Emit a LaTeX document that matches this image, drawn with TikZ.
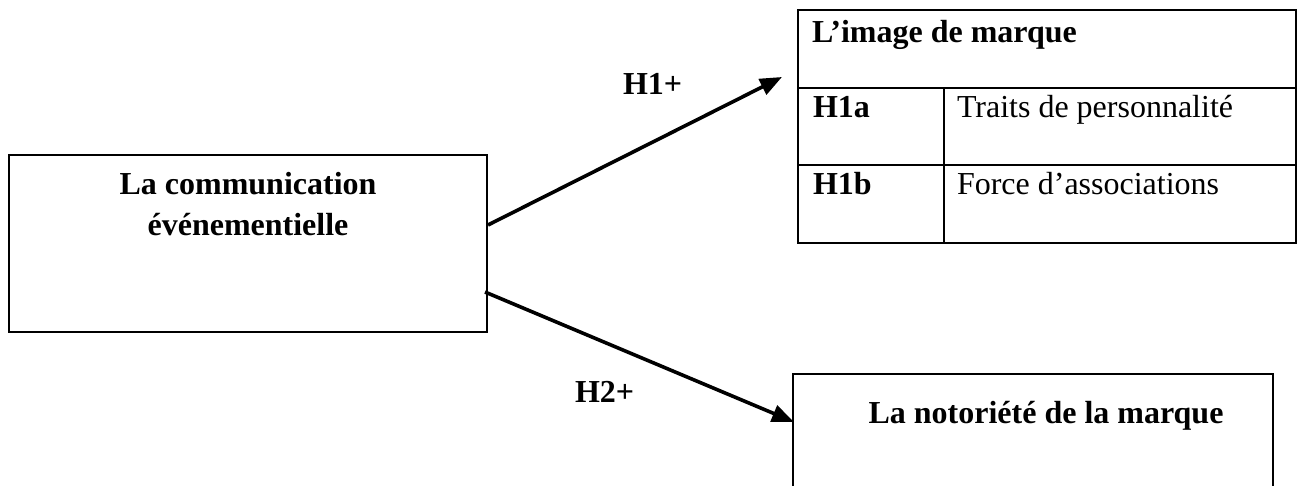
\documentclass[tikz,border=0pt]{standalone}
\usepackage{fontspec}
\setmainfont{Liberation Serif}
\usetikzlibrary{arrows.meta}
\begin{document}
\begin{tikzpicture}[x=0.5pt,y=-0.5pt,
  every node/.style={inner sep=0pt,outer sep=0pt},
  txt/.style={font=\fontsize{16pt}{20pt}\selectfont},
  btxt/.style={font=\fontsize{16pt}{20pt}\selectfont\bfseries},
  thinbox/.style={draw,line width=0.6pt,rectangle},
  thickbox/.style={draw,line width=1.1pt,rectangle},
  link/.style={line width=1.8pt,-{Triangle[length=11pt,width=8.5pt]}}]
\useasboundingbox (0,0) rectangle (1311,486);
\clip (0,0) rectangle (1311,486);

% source box
\node[thinbox,minimum width=239pt,minimum height=88.5pt] (src) at (248,243.5) {};
\node[btxt,anchor=base] (srcA) at (248,195) {La communication};
\node[btxt,anchor=base] (srcB) at (248,235) {événementielle};

% brand image table
\node[thickbox,minimum width=249pt,minimum height=116.5pt] (tbl) at (1047,126.5) {};
\coordinate (rowA) at (798,88);
\coordinate (rowAe) at (1296,88);
\coordinate (rowB) at (798,165);
\coordinate (rowBe) at (1296,165);
\coordinate (colT) at (944,88);
\coordinate (colB) at (944,243);
\draw[line width=1.1pt] (rowA) -- (rowAe);
\draw[line width=1.1pt] (rowB) -- (rowBe);
\draw[line width=1.1pt] (colT) -- (colB);
\node[btxt,anchor=base west] (tHead) at (812,43) {L’image de marque};
\node[btxt,anchor=base west] (tH1a) at (813,118) {H1a};
\node[txt,anchor=base west] (tTraits) at (957,118) {Traits de personnalité};
\node[btxt,anchor=base west] (tH1b) at (813,195) {H1b};
\node[txt,anchor=base west] (tForce) at (957,195) {Force d’associations};

% awareness box (runs past the lower edge)
\node[thinbox,minimum width=240pt,minimum height=73pt] (nb) at (1033,447) {};
\node[btxt,anchor=base] (nbT) at (1046,423) {La notoriété de la marque};

% hypotheses
\draw[link] ([shift={(1,-18.5)}]src.east) -- ([shift={(-16,-49.5)}]tbl.west);
\draw[link] ([shift={(-2,48.5)}]src.east) -- ([shift={(1,-25)}]nb.west);
\node[btxt,anchor=base west] (h1) at (623,95) {H1+};
\node[btxt,anchor=base west] (h2) at (575,402) {H2+};
\end{tikzpicture}
\end{document}
